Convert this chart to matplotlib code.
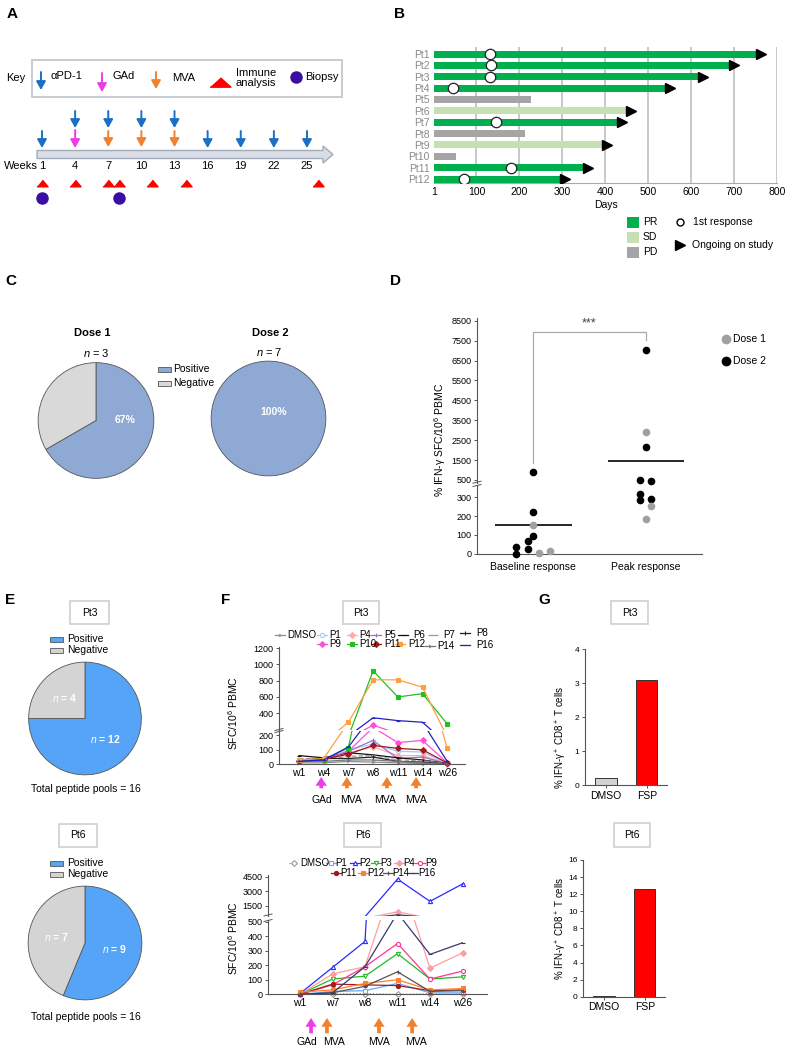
import numpy as np
import matplotlib
matplotlib.use("Agg")
import matplotlib.pyplot as plt
from matplotlib.patches import Rectangle, FancyArrow

plt.rcParams['font.family'] = ['Liberation Sans', 'DejaVu Sans']
plt.rcParams['font.size'] = 7
plt.rcParams['mathtext.fontset'] = 'custom'
plt.rcParams['mathtext.rm'] = 'Liberation Sans'
plt.rcParams['mathtext.it'] = 'Liberation Sans:italic'
plt.rcParams['mathtext.bf'] = 'Liberation Sans:bold'

# ---------------- data ----------------
# A: treatment schedule (weeks)
week_ticks = [1, 4, 7, 10, 13, 16, 19, 22, 25]
pd1_weeks = [1, 4, 7, 10, 13, 16, 19, 22, 25]
gad_weeks = [4]
mva_weeks = [7, 10, 13]
immune_weeks = [1, 4, 7, 8, 11, 14, 26]
biopsy_weeks = [1, 8]

# B: swimmer plot
patients = ['Pt1', 'Pt2', 'Pt3', 'Pt4', 'Pt5', 'Pt6', 'Pt7', 'Pt8', 'Pt9', 'Pt10', 'Pt11', 'Pt12']
days_on_study = [753, 690, 618, 541, 226, 450, 430, 212, 395, 52, 350, 298]
best_response = ['PR', 'PR', 'PR', 'PR', 'PD', 'SD', 'PR', 'PD', 'SD', 'PD', 'PR', 'PR']
first_response_day = [132, 133, 131, 45, None, None, 145, None, None, None, 180, 72]
ongoing = [True, True, True, True, False, True, True, False, True, False, True, True]
day_ticks = [1, 100, 200, 300, 400, 500, 600, 700, 800]

# C: responders per dose
dose1_counts = [2, 1]   # positive, negative
dose2_counts = [7, 0]

# D: IFN-g ELISpot baseline vs peak
baseline_vals = [920, 224, 153, 95, 67, 37, 25, 0, 4, 14]
baseline_dose = [2, 2, 1, 2, 2, 2, 2, 2, 1, 1]
baseline_jitter = [0, 0, 0, 0, -0.05, -0.15, -0.05, -0.15, 0.05, 0.15]
peak_vals = [7050, 2900, 2165, 490, 450, 317, 283, 288, 252, 187]
peak_dose = [2, 1, 2, 2, 2, 2, 2, 2, 1, 1]
peak_jitter = [0, 0, 0, -0.05, 0.05, -0.05, -0.05, 0.05, 0.05, 0]

# E: positive / negative peptide pools
pt3_pools = [12, 4]
pt6_pools = [9, 7]

# F: SFC per peptide pool over time
pt3_weeks = ['w1', 'w4', 'w7', 'w8', 'w11', 'w14', 'w26']
pt3_labels = ['DMSO', 'P1', 'P4', 'P5', 'P6', 'P7', 'P8', 'P9', 'P10', 'P11', 'P12', 'P14', 'P16']
pt3_sfc = [
    [10, 10, 20, 15, 10, 5, 0],
    [30, 25, 100, 140, 90, 85, 5],
    [25, 30, 80, 120, 60, 60, 5],
    [20, 30, 90, 165, 40, 50, 5],
    [60, 45, 80, 65, 45, 30, 5],
    [40, 35, 55, 60, 30, 25, 5],
    [30, 40, 40, 50, 20, 15, 2],
    [25, 30, 90, 255, 150, 165, 10],
    [20, 30, 115, 920, 600, 640, 270],
    [20, 35, 70, 130, 110, 100, 10],
    [30, 40, 290, 810, 810, 720, 110],
    [20, 20, 30, 30, 20, 10, 0],
    [20, 30, 120, 345, 310, 290, 20],
]
pt3_gad_x = [0.9]
pt3_mva_x = [1.94, 3.56, 4.74]
pt3_gad_lab_x = [0.93]
pt3_mva_lab_x = [2.1, 3.48, 4.74]

pt6_weeks = ['w1', 'w7', 'w8', 'w11', 'w14', 'w26']
pt6_labels = ['DMSO', 'P1', 'P2', 'P3', 'P4', 'P9', 'P11', 'P12', 'P14', 'P16']
pt6_sfc = [
    [0, 3, 5, 0, 3, 2],
    [0, 20, 25, 75, 10, 10],
    [5, 185, 365, 4250, 1950, 3750],
    [0, 105, 125, 280, 105, 120],
    [0, 140, 190, 870, 180, 285],
    [0, 65, 190, 350, 105, 160],
    [0, 70, 65, 60, 25, 30],
    [15, 30, 75, 100, 30, 40],
    [0, 10, 55, 155, 20, 25],
    [0, 10, 190, 560, 275, 355],
]
pt6_gad_x = [0.34]
pt6_mva_x = [0.83, 2.43, 3.45]
pt6_gad_lab_x = [0.22]
pt6_mva_lab_x = [1.05, 2.43, 3.57]

# G: intracellular staining
g_conditions = ['DMSO', 'FSP']
pt3_ifng = [0.2, 3.1]
pt6_ifng = [0.05, 12.6]

# ---------------- styles ----------------
BLUE, MAGENTA, ORANGE, RED, PURPLE = '#1c6fc2', '#ec3ee6', '#f0812f', '#ff0000', '#3a0ea6'
resp_colors = {'PR': '#00b04f', 'SD': '#c6e0b4', 'PD': '#a5a5a5'}
pie_c = ['#8eaad4', '#d9d9d9']
pie_e = ['#55a4f7', '#d4d4d4']

pt3_colors = ['#8c8c8c', '#9ccbff', '#ffaaaa', '#a070c8', '#111111', '#9a9a9a', '#222222',
              '#ff4fd8', '#20c020', '#a01818', '#ffa040', '#777777', '#2020c8']
pt3_markers = ['4', 'o', 'D', '+', '_', '_', '|', 'D', 's', 'D', 's', '4', '_']
pt3_ls = ['-', '-', '-', '-', '-', '--', '-', '-', '-', '-', '-', '-', '-']
pt3_open = [False, True] + [False] * 11

pt6_colors = ['#999999', '#66aaff', '#2a2aff', '#22bb22', '#ff9e9e', '#ff3399', '#a01c1c',
              '#ff8030', '#555555', '#38386e']
pt6_markers = ['D', 's', '^', 'v', 'D', 'o', 'o', 's', '+', '_']
pt6_ls = [':', '-', '-', '-', '-', '-', '-', '-', '-', '-']
pt6_open = [True, True, True, True, False, True, False, False, False, False]

W, H = 788, 1050
fig = plt.figure(figsize=(W / 100, H / 100), dpi=100)


def pax(x0, y0, x1, y1):
    # axes from a pixel box (top-left origin)
    return fig.add_axes([x0 / W, 1 - y1 / H, (x1 - x0) / W, (y1 - y0) / H])


ov = fig.add_axes([0, 0, 1, 1], zorder=10)
ov.set_xlim(0, W)
ov.set_ylim(H, 0)
ov.axis('off')
ov.patch.set_visible(False)

for lab, x, y in [('A', 12, 14), ('B', 400, 14), ('C', 11, 281), ('D', 396, 281),
                  ('E', 10, 600), ('F', 226, 600), ('G', 544, 600)]:
    ov.text(x, y, lab, fontsize=11, fontweight='bold', ha='center', va='center')


def drop_arrow(ax, x, y0, y1, color, lw=1.4, ms=10):
    ax.annotate('', xy=(x, y1), xytext=(x, y0),
                arrowprops=dict(arrowstyle='-|>,head_width=0.28,head_length=0.5',
                                color=color, lw=lw, shrinkA=0, shrinkB=0, mutation_scale=ms))


# ---------------- A ----------------
ppw = (307 - 42) / 24
axA = pax(0, 0, 360, 210)
axA.set_xlim(1 - 42 / ppw, 1 + (360 - 42) / ppw)
axA.set_ylim(210, 0)
axA.axis('off')
axA.add_patch(FancyArrow(1 - 5 / ppw, 154.5, (333 - 37) / ppw, 0, width=8, head_width=17,
                         head_length=10 / ppw, length_includes_head=True,
                         fc='#d9dde5', ec='#a3abbb', lw=1))
for w in pd1_weeks:
    if w in gad_weeks or w in mva_weeks:
        drop_arrow(axA, w, 111, 128, BLUE)
    else:
        drop_arrow(axA, w, 131, 148, BLUE)
for w in gad_weeks:
    drop_arrow(axA, w, 130, 148, MAGENTA)
for w in mva_weeks:
    drop_arrow(axA, w, 131, 147, ORANGE)
for w in week_ticks:
    axA.text(w, 166, str(w), ha='center', va='center', fontsize=8)
tri = [(-1, -0.6), (1, -0.6), (0, 0.6)]
axA.plot(immune_weeks, [183] * len(immune_weeks), ls='none', marker=tri, ms=8, color=RED)
axA.plot(biopsy_weeks, [198] * len(biopsy_weeks), ls='none', marker='o', ms=8, color=PURPLE)
ov.text(4, 166, 'Weeks', va='center', fontsize=8)

# key
ov.add_patch(Rectangle((32, 60), 310, 37, fc='white', ec='#c3c7cf', lw=1.3))
ov.text(6, 78, 'Key', va='center', fontsize=8)
drop_arrow(ov, 41, 72, 90, BLUE)
ov.text(51, 76, 'αPD-1', va='center', fontsize=8)
drop_arrow(ov, 102, 73, 92, MAGENTA)
ov.text(113, 76, 'GAd', va='center', fontsize=8)
drop_arrow(ov, 156, 72, 89, ORANGE)
ov.text(172, 78, 'MVA', va='center', fontsize=8)
ov.plot(220, 82, marker=[(-1, -0.45), (1, -0.45), (0, 0.45)], ms=15, color=RED)
ov.text(236, 78, 'Immune\nanalysis', va='center', fontsize=8, linespacing=1.05)
ov.plot(296, 77, 'o', ms=8, color=PURPLE)
ov.text(305, 77, 'Biopsy', va='center', fontsize=8)

# ---------------- B ----------------
axB = pax(434, 47, 777, 183)
rows = np.arange(len(patients))
axB.barh(rows, np.array(days_on_study) - 1, left=1, height=0.62,
         color=[resp_colors[r] for r in best_response], zorder=3)
for i in rows:
    if ongoing[i]:
        axB.plot(days_on_study[i] + 9, i, marker='>', color='black', ms=7.5, zorder=4)
    if first_response_day[i] is not None:
        axB.plot(first_response_day[i], i, 'o', mfc='white', mec='#222', mew=0.9, ms=7.5, zorder=5)
for d in day_ticks[1:]:
    axB.axvline(d, color='#c4c4c4', lw=1.3, zorder=1)
axB.set_xlim(1, 800)
axB.set_ylim(11.35, -0.62)
axB.set_xticks(day_ticks)
axB.set_yticks(rows)
axB.set_yticklabels(patients, color='#8a8a8a', fontsize=7.5)
axB.tick_params(length=0, labelsize=7.5, pad=3)
for s in ('top', 'right', 'left'):
    axB.spines[s].set_visible(False)
axB.spines['bottom'].set_color('#aaaaaa')
axB.set_xlabel('Days', fontsize=7.5, labelpad=2)

for lab, y in [('PR', 222), ('SD', 237), ('PD', 252)]:
    ov.add_patch(Rectangle((627, y - 5.5), 12, 11, color=resp_colors[lab], lw=0))
    ov.text(643, y, lab, va='center', fontsize=7.5)
ov.plot(680, 222, 'o', mfc='white', mec='black', mew=1, ms=5)
ov.text(693, 222, '1st response', va='center', fontsize=7.5)
ov.plot(680, 245, marker='>', color='black', ms=7)
ov.text(692, 245, 'Ongoing on study', va='center', fontsize=7.5)


# ---------------- C ----------------
def pie(box, counts, colors):
    ax = pax(*box)
    vals = [v for v in counts if v > 0]
    cols = [c for v, c in zip(counts, colors) if v > 0]
    ax.pie(vals, colors=cols, startangle=90, counterclock=False,
           wedgeprops=dict(edgecolor='#555555', linewidth=0.6))
    ax.set_xlim(-1.02, 1.02)
    ax.set_ylim(-1.02, 1.02)
    return ax


axC1 = pie((37, 361, 155, 480), dose1_counts, pie_c)
axC1.text(0.5, 0.0, f'{round(100 * dose1_counts[0] / sum(dose1_counts))}%', color='white',
          fontweight='bold', fontsize=7.5, ha='center', va='center')
axC2 = pie((210, 360, 327, 477), dose2_counts, pie_c)
axC2.text(0.09, 0.12, f'{round(100 * dose2_counts[0] / sum(dose2_counts))}%', color='white',
          fontweight='bold', fontsize=7.5, ha='center', va='center')
ov.text(92, 333, 'Dose 1', fontweight='bold', fontsize=8, ha='center', va='center')
ov.text(96, 353, r'$n$ = %d' % sum(dose1_counts), fontsize=8, ha='center', va='center')
ov.text(270, 333, 'Dose 2', fontweight='bold', fontsize=8, ha='center', va='center')
ov.text(269, 352, r'$n$ = %d' % sum(dose2_counts), fontsize=8, ha='center', va='center')
for lab, y, c in [('Positive', 369, pie_c[0]), ('Negative', 383, pie_c[1])]:
    ov.add_patch(Rectangle((158, y - 2.5), 13, 5, fc=c, ec='#555', lw=0.6))
    ov.text(173, y, lab, va='center', fontsize=7.5)


# ---------------- shared axis styling ----------------
def style(a):
    a.patch.set_visible(False)
    for s in ('top', 'right'):
        a.spines[s].set_visible(False)
    a.spines['left'].set_color('#555')
    a.spines['bottom'].set_color('#555')
    a.tick_params(labelsize=6.5, length=2.5, width=0.7, color='#555', pad=1.5)


def broken(x0, x1, y_top, y_hi, y_lo, y_bot):
    au = pax(x0, y_top, x1, y_hi)
    al = pax(x0, y_lo, x1, y_bot)
    style(au)
    style(al)
    au.spines['bottom'].set_visible(False)
    au.tick_params(axis='x', bottom=False, labelbottom=False)
    ov.plot([x0 - 4, x0 + 4], [y_hi + 0.5, y_hi - 1.5], color='#555', lw=0.7)
    ov.plot([x0 - 4, x0 + 4], [y_lo + 1.5, y_lo - 0.5], color='#555', lw=0.7)
    return au, al


# ---------------- D ----------------
axDu, axDl = broken(477, 702, 318, 482.7, 485, 553.7)
axDu.set_ylim(364, 8636)
axDl.set_ylim(0, 365)
for a in (axDu, axDl):
    a.set_xlim(-0.5, 1.5)
axDu.set_yticks(np.arange(500, 8501, 1000))
axDl.set_yticks([0, 100, 200, 300])
axDl.set_xticks([0, 1])
axDl.set_xticklabels(['Baseline response', 'Peak response'], fontsize=7.5)
axDl.tick_params(axis='x', length=0, pad=6)

dose_col = {1: '#a0a0a0', 2: 'black'}
for xc, vals, doses, jit in [(0, baseline_vals, baseline_dose, baseline_jitter),
                             (1, peak_vals, peak_dose, peak_jitter)]:
    for v, d, j in zip(vals, doses, jit):
        a = axDu if v > 364 else axDl
        a.plot(xc + j, v, 'o', color=dose_col[d], ms=4.5, clip_on=False, zorder=4)
    m = np.mean(vals)
    a = axDu if m > 364 else axDl
    a.hlines(m, xc - 0.34, xc + 0.34, color='black', lw=1.2)
axDu.plot([0, 0, 1, 1], [1350, 7920, 7920, 7530], color='#aaaaaa', lw=0.9)
axDu.text(0.5, 8350, '***', ha='center', va='center', fontsize=9, color='#444')
ov.text(440, 440, '% IFN-γ SFC/10$^6$ PBMC', rotation=90, ha='center', va='center', fontsize=7.5)
ov.plot(726, 339, 'o', color=dose_col[1], ms=6)
ov.text(733, 339, 'Dose 1', va='center', fontsize=7.5)
ov.plot(726, 361, 'o', color=dose_col[2], ms=6)
ov.text(733, 361, 'Dose 2', va='center', fontsize=7.5)


# ---------------- boxes ----------------
def label_box(x0, y0, x1, y1, s):
    ov.add_patch(Rectangle((x0, y0), x1 - x0, y1 - y0, fc='white', ec='#cfcfcf', lw=1.2))
    ov.text((x0 + x1) / 2, (y0 + y1) / 2, s, ha='center', va='center', fontsize=7.5)


for b in [(70, 601, 109, 624), (343, 601, 379, 624), (611, 601, 648, 624)]:
    label_box(*b, 'Pt3')
for b in [(59, 824, 97, 847), (344, 823, 381, 847), (614, 823, 650, 847)]:
    label_box(*b, 'Pt6')


# ---------------- E ----------------
def pool_pie(box, counts):
    ax = pax(*box)
    tot = sum(counts)
    ax.pie(counts, colors=pie_e, startangle=90, counterclock=False, pctdistance=0.52,
           autopct=lambda p: r'$n$ = %d' % round(p * tot / 100),
           textprops=dict(color='white', fontweight='bold', fontsize=7.5),
           wedgeprops=dict(edgecolor='#555555', linewidth=0.6))
    ax.set_xlim(-1.02, 1.02)
    ax.set_ylim(-1.02, 1.02)
    return ax


pool_pie((27, 661, 143, 776), pt3_pools)
pool_pie((27, 885, 143, 1001), pt6_pools)
for y, counts in [(789, pt3_pools), (1017, pt6_pools)]:
    ov.text(86, y, f'Total peptide pools = {sum(counts)}', ha='center', va='center', fontsize=7.5)
for y0 in (639, 863):
    for lab, dy, c in [('Positive', 0, pie_e[0]), ('Negative', 11, pie_e[1])]:
        ov.add_patch(Rectangle((50, y0 + dy - 2.5), 13, 5, fc=c, ec='#555', lw=0.6))
        ov.text(67, y0 + dy, lab, va='center', fontsize=7.5)


# ---------------- F ----------------
def sfc_panel(box, first_px, step_px, weeks, sfc, colors, markers, lss, opens, hi_lim, lo_lim,
              hi_ticks, lo_ticks, gad_x, mva_x, gad_lab, mva_lab, tip, tail, txt, ylab_y):
    x0px, x1px = box[0], box[1]
    au, al = broken(*box)
    x = np.arange(len(weeks))
    for vals, c, m, ls, op in zip(sfc, colors, markers, lss, opens):
        v = np.array(vals, dtype=float)
        for a, (lo, hi) in ((au, hi_lim), (al, lo_lim)):
            a.plot(x, v, color=c, ls=ls, lw=0.9)
            inside = (v >= lo) & (v <= hi)
            a.plot(x[inside], v[inside], ls='none', marker=m, ms=3, mew=0.8,
                   mfc='white' if op else c, mec=c, clip_on=False)
    lim = ((x0px - first_px) / step_px, (x1px - first_px) / step_px)
    au.set_xlim(*lim)
    al.set_xlim(*lim)
    au.set_ylim(*hi_lim)
    al.set_ylim(*lo_lim)
    au.set_yticks(hi_ticks)
    al.set_yticks(lo_ticks)
    al.set_xticks(x)
    al.set_xticklabels(weeks, fontsize=7.5)
    al.tick_params(axis='x', length=0, pad=3)
    coords = ('data', 'axes fraction')
    for xs, labs, c, lab in [(gad_x, gad_lab, MAGENTA, 'GAd'), (mva_x, mva_lab, ORANGE, 'MVA')]:
        for xv, xl in zip(xs, labs):
            al.annotate('', xy=(xv, 0), xycoords=coords, xytext=(0, -tail), textcoords='offset pixels',
                        arrowprops=dict(arrowstyle='simple,head_width=0.9,head_length=0.7,tail_width=0.3',
                                        fc=c, ec='none', mutation_scale=9, shrinkA=0, shrinkB=tip * 0.72))
            al.annotate(lab, xy=(xl, 0), xycoords=coords, xytext=(0, -txt), textcoords='offset pixels',
                        ha='center', va='center', fontsize=7.5)
    ov.text(233, ylab_y, 'SFC/10$^6$ PBMC', rotation=90, ha='center', va='center', fontsize=7.5)


sfc_panel((279, 465, 646.7, 730, 731, 764.3), 299, 24.7, pt3_weeks, pt3_sfc, pt3_colors,
          pt3_markers, pt3_ls, pt3_open, (195, 1216), (0, 230),
          [400, 600, 800, 1000, 1200], [0, 100, 200],
          pt3_gad_x, pt3_mva_x, pt3_gad_lab_x, pt3_mva_lab_x, 12.7, 24, 36, 713)
sfc_panel((268, 487, 875, 915.5, 920, 994.3), 300, 32.5, pt6_weeks, pt6_sfc, pt6_colors,
          pt6_markers, pt6_ls, pt6_open, (487, 4676), (0, 512),
          [1500, 3000, 4500], [0, 100, 200, 300, 400, 500],
          pt6_gad_x, pt6_mva_x, pt6_gad_lab_x, pt6_mva_lab_x, 23.7, 39, 48, 938)


def legend_items(items, labels, colors, markers, lss, opens):
    for (kx, tx, y), lab in zip(items, labels):
        i = labels.index(lab)
        ov.plot([kx - 5, kx + 5], [y, y], color=colors[i], ls=lss[i], lw=0.9)
        ov.plot(kx, y, marker=markers[i], color=colors[i], ms=3, mew=0.8,
                mfc='white' if opens[i] else colors[i])
        ov.text(tx, y, lab, va='center', fontsize=7)


pt3_leg = [(280, 287, 635), (322, 329, 635), (352, 359, 635), (376, 384, 635), (403, 413, 635),
           (433, 443, 635), (465, 476, 633), (322, 329, 644), (352, 359, 644), (376, 384, 644),
           (400, 408, 644), (430, 437, 646), (465, 476, 645)]
legend_items(pt3_leg, pt3_labels, pt3_colors, pt3_markers, pt3_ls, pt3_open)
pt6_leg = [(294, 300, 863), (331, 335, 863), (355, 359, 863), (376, 380, 863), (399, 403, 863),
           (420, 425, 863), (336, 340, 873), (363, 367, 873), (388, 392, 873), (413, 418, 873)]
legend_items(pt6_leg, pt6_labels, pt6_colors, pt6_markers, pt6_ls, pt6_open)


# ---------------- G ----------------
def ics_panel(box, vals, ymax, ticks, ylab_y):
    ax = pax(*box)
    ax.bar(np.arange(len(g_conditions)), vals, width=0.53, color=['#d3d3d3', '#ff0000'],
           edgecolor='#333333', linewidth=0.7)
    ax.set_xlim(-0.52, 1.5)
    ax.set_ylim(0, ymax)
    ax.set_yticks(ticks)
    ax.set_xticks(np.arange(len(g_conditions)))
    ax.set_xticklabels(g_conditions, fontsize=7.5)
    style(ax)
    ax.tick_params(axis='y', labelsize=6)
    ax.tick_params(axis='x', labelsize=7.5)
    ov.text(561, ylab_y, '% IFN-γ$^+$ CD8$^+$ T cells', rotation=90, ha='center', va='center',
            fontsize=7)


ics_panel((585, 649.3, 667, 785), pt3_ifng, 4, [0, 1, 2, 3, 4], 737)
ics_panel((583, 860, 665, 996.7), pt6_ifng, 16, np.arange(0, 17, 2), 928)

fig.savefig('out.png', dpi=100)
